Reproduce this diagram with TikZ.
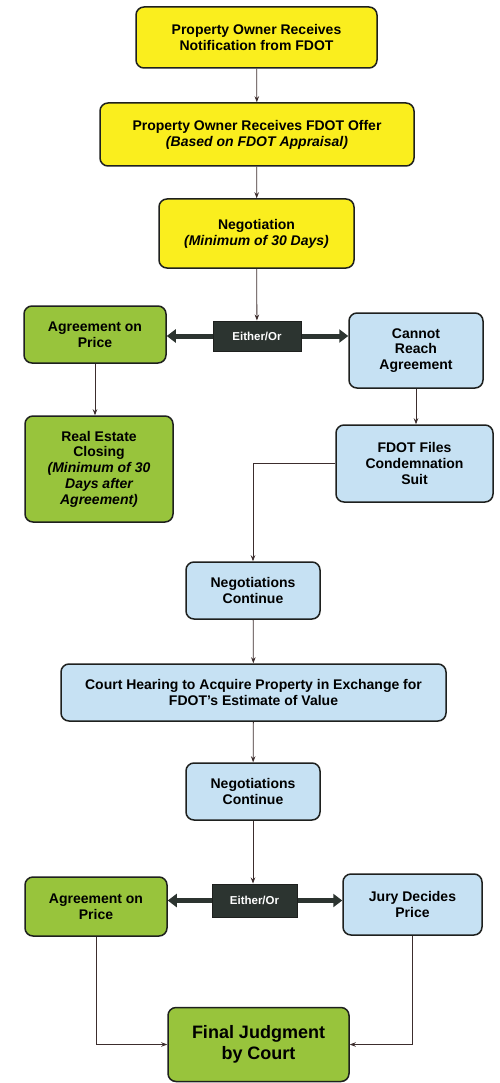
\documentclass[tikz,border=0pt]{standalone}
\usepackage{fontspec}
\setmainfont{Liberation Sans}
\usetikzlibrary{arrows.meta,calc}
\definecolor{yel}{RGB}{250,238,30}
\definecolor{grn}{RGB}{152,196,60}
\definecolor{blu}{RGB}{198,225,243}
\definecolor{eo}{RGB}{44,52,48}
\definecolor{edge}{RGB}{30,32,30}
\definecolor{conn}{RGB}{60,45,45}
\tikzset{
  box/.style={draw=edge, line width=1.5pt, rounded corners=8pt, align=center,
    inner sep=2pt, font=\fontsize{14}{15.8}\selectfont\bfseries},
  yb/.style={box, fill=yel},
  gb/.style={box, fill=grn},
  bb/.style={box, fill=blu},
  eobox/.style={draw=edge, fill=eo, line width=1pt, text=white,
    font=\fontsize{11.5}{13}\selectfont\bfseries, minimum width=88pt, minimum height=30pt},
  conn/.style={draw=conn, line width=0.8pt, -{Stealth[length=6pt,width=4.5pt]}},
  fat/.style={draw=eo, line width=5pt, -{Triangle[length=9pt,width=13pt]}},
}
\begin{document}
\begin{tikzpicture}[x=1pt,y=-1pt]
\useasboundingbox (0,0) rectangle (500,1083);
\fill[white] (0,0) rectangle (500,1083);

\node[yb, minimum width=241pt, minimum height=61pt] (n1) at (256.5,37.5)
  {Property Owner Receives\\Notification from FDOT};
\node[yb, minimum width=314pt, minimum height=63pt] (n2) at (257,134.5)
  {Property Owner Receives FDOT Offer\\{\itshape (Based on FDOT Appraisal)}};
\node[yb, minimum width=195pt, minimum height=69pt] (n3) at (256.5,233.5)
  {Negotiation\\{\itshape (Minimum of 30 Days)}};

\node[eobox] (eo1) at (257,336) {Either/Or};
\node[gb, minimum width=142pt, minimum height=57pt] (g1) at (95,334.5)
  {Agreement on\\Price};
\node[bb, minimum width=134pt, minimum height=75pt] (b1) at (416,350.5)
  {Cannot\\Reach\\Agreement};
\node[gb, minimum width=148pt, minimum height=106pt] (g2) at (99,469)
  {Real Estate\\Closing\\{\itshape (Minimum of 30}\\{\itshape Days after}\\{\itshape Agreement)}};
\node[bb, minimum width=157pt, minimum height=77pt] (b2) at (414.5,463.5)
  {FDOT Files\\Condemnation\\Suit};

\node[bb, minimum width=134pt, minimum height=57pt] (b3) at (253,590.5)
  {Negotiations\\Continue};
\node[bb, minimum width=385pt, minimum height=57pt] (b4) at (253.5,692.5)
  {Court Hearing to Acquire Property in Exchange for\\FDOT’s Estimate of Value};
\node[bb, minimum width=134pt, minimum height=57pt] (b5) at (253,791.5)
  {Negotiations\\Continue};

\node[eobox, minimum width=85pt, minimum height=33pt] (eo2) at (254.5,900.5) {Either/Or};
\node[gb, minimum width=142pt, minimum height=59pt] (g3) at (96,906.5)
  {Agreement on\\Price};
\node[bb, minimum width=139pt, minimum height=61pt] (b6) at (412.5,904.5)
  {Jury Decides\\Price};
\node[gb, minimum width=181pt, minimum height=74pt,
  font=\fontsize{18}{20.5}\selectfont\bfseries] (g4) at (258.5,1044.5)
  {Final Judgment\\by Court};

\draw[conn] (n1) -- (n2);
\draw[conn] (n2) -- (n3);
\draw[conn] (n3) -- (eo1);
\draw[fat] (eo1.west) -- (g1.east |- eo1.west);
\draw[fat] (eo1.east) -- (b1.west |- eo1.east);
\draw[conn] (g1.south) -- (g1.south |- g2.north);
\draw[conn] (b1.south) -- (b1.south |- b2.north);
\draw[conn] (b2.west) -| (b3.north);
\draw[conn] (b3) -- (b4);
\draw[conn] (b4) -- (b5);
\draw[conn] (b5.south) -- (b5.south |- eo2.north);
\draw[fat] (eo2.west) -- (g3.east |- eo2.west);
\draw[fat] (eo2.east) -- (b6.west |- eo2.east);
\draw[conn] (g3.south) |- (g4.west);
\draw[conn] (b6.south) |- (g4.east);
\end{tikzpicture}
\end{document}
